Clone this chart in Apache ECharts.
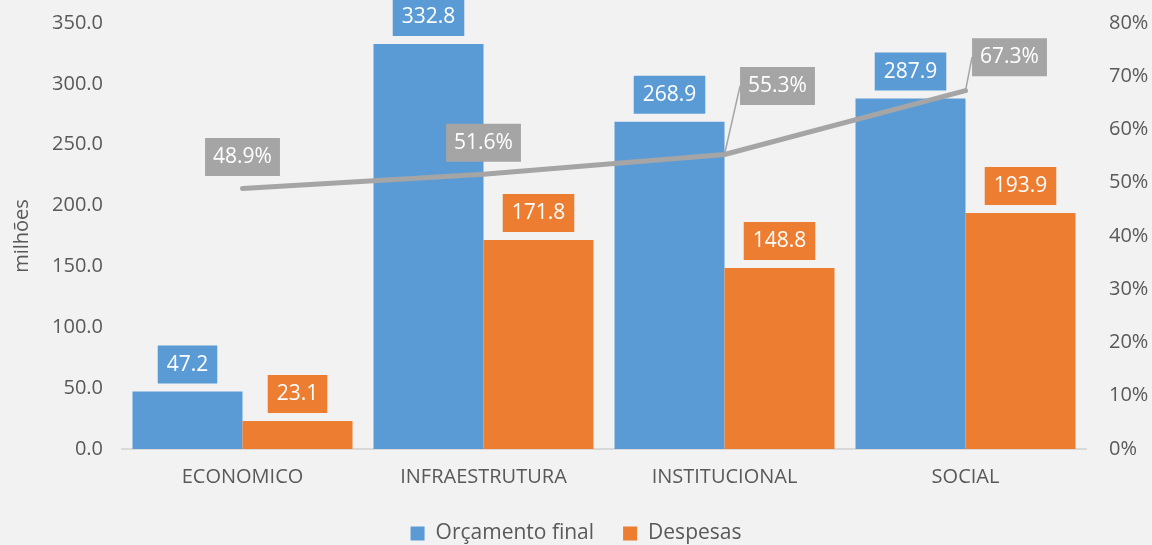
<!DOCTYPE html>
<html>
<head>
<meta charset="utf-8">
<script src="https://cdn.jsdelivr.net/npm/echarts@6/dist/echarts.min.js"></script>
<style>
	html, body { margin: 0; padding: 0; background: #F2F2F2; }
	#grafico { width: 1152px; height: 545px; }
</style>
</head>
<body>
<div id="grafico"></div>
<script>
var categorias = ['ECONOMICO', 'INFRAESTRUTURA', 'INSTITUCIONAL', 'SOCIAL'];
var orcamento = [47.2, 332.8, 268.9, 287.9];
var despesas = [23.1, 171.8, 148.8, 193.9];
var execucao = [0.489, 0.516, 0.553, 0.673];
var ticksEsq = [0, 50, 100, 150, 200, 250, 300, 350];
var ticksDir = [0, 0.1, 0.2, 0.3, 0.4, 0.5, 0.6, 0.7, 0.8];

var fonte = '"Open Sans", sans-serif';
var cinza = '#595959';

var myChart = echarts.init(document.getElementById('grafico'));

function rotuloBarra(cor) {
	return {
		show: true,
		position: 'top',
		distance: 8,
		color: '#fff',
		fontFamily: fonte,
		fontSize: 21,
		lineHeight: 22,
		backgroundColor: cor,
		padding: [8, 9],
		formatter: function (p) { return p.value.toFixed(1); }
	};
}

// so os dois ultimos rotulos da linha tem linha de chamada
var dadosLinha = execucao.map(function (v, i) {
	return { value: v, labelLine: { show: i >= 2 } };
});

var option = {
	backgroundColor: '#F2F2F2',
	textStyle: { fontFamily: fonte },
	grid: {
		left: 122,
		right: 66,
		top: 23,
		bottom: 96
	},
	legend: {
		data: ['Orçamento final', 'Despesas'],
		bottom: -4,
		left: 'center',
		icon: 'rect',
		itemWidth: 14,
		itemHeight: 14,
		itemGap: 29,
		textStyle: { color: cinza, fontSize: 21, fontFamily: fonte, padding: [0, 0, 0, 6] }
	},
	xAxis: {
		type: 'category',
		data: categorias,
		axisTick: { show: false },
		axisLine: { lineStyle: { color: '#D9D9D9', width: 2 } },
		axisLabel: { color: cinza, fontSize: 20, margin: 18, fontFamily: fonte }
	},
	yAxis: [{
		type: 'value',
		min: ticksEsq[0],
		max: ticksEsq[ticksEsq.length - 1],
		interval: 50,
		name: 'milhões',
		nameLocation: 'middle',
		nameGap: 90,
		nameTextStyle: { color: cinza, fontSize: 20, fontFamily: fonte },
		splitLine: { show: false },
		axisLine: { show: false },
		axisTick: { show: false },
		axisLabel: {
			color: cinza, fontSize: 20, margin: 19, fontFamily: fonte,
			formatter: function (v) { return v.toFixed(1); }
		}
	}, {
		type: 'value',
		min: ticksDir[0],
		max: ticksDir[ticksDir.length - 1],
		interval: 0.1,
		splitLine: { show: false },
		axisLine: { show: false },
		axisTick: { show: false },
		axisLabel: {
			color: cinza, fontSize: 20, margin: 23, fontFamily: fonte,
			formatter: function (v) { return Math.round(v * 100) + '%'; }
		}
	}],
	series: [{
		name: 'Orçamento final',
		type: 'bar',
		data: orcamento,
		barWidth: 110,
		barGap: '0%',
		itemStyle: { color: '#5B9BD5' },
		label: rotuloBarra('#5B9BD5')
	}, {
		name: 'Despesas',
		type: 'bar',
		data: despesas,
		barWidth: 110,
		itemStyle: { color: '#ED7D31' },
		label: rotuloBarra('#ED7D31')
	}, {
		name: 'Execução',
		type: 'line',
		yAxisIndex: 1,
		data: dadosLinha,
		symbol: 'circle',
		symbolSize: 1,
		showSymbol: true,
		z: 5,
		lineStyle: { color: '#A5A5A5', width: 5, cap: 'round' },
		itemStyle: { color: '#A5A5A5' },
		label: {
			show: true,
			position: 'top',
			distance: 12,
			color: '#fff',
			fontFamily: fonte,
			fontSize: 21,
			lineHeight: 22,
			backgroundColor: '#A5A5A5',
			padding: [8, 8],
			formatter: function (p) { return (p.value * 100).toFixed(1) + '%'; }
		},
		labelLine: {
			show: false,
			lineStyle: { color: '#A5A5A5', width: 1.5 }
		},
		labelLayout: function (p) {
			if (p.dataIndex === 2) return { dx: 53, dy: -37 };
			if (p.dataIndex === 3) return { dx: 44, dy: -2 };
			return {};
		}
	}]
};

myChart.setOption(option);
</script>
</body>
</html>
